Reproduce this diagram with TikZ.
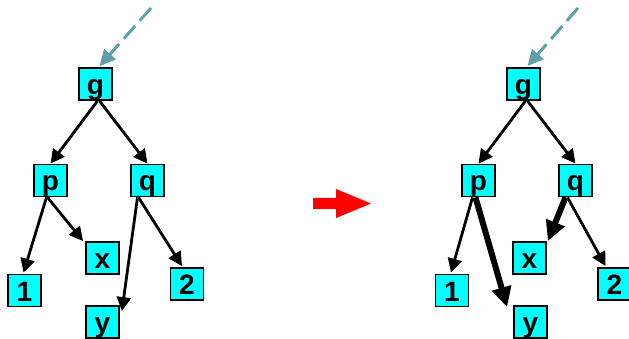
\documentclass[tikz,border=0pt]{standalone}
\usepackage{fontspec}
\setmainfont{Liberation Sans}
\usetikzlibrary{arrows.meta,calc}
\definecolor{boxcyan}{RGB}{0,255,255}
\definecolor{pointer}{RGB}{92,160,170}
\tikzset{
  treenode/.style={draw=black, line width=1.8pt, fill=boxcyan, inner sep=0pt,
    minimum width=33pt, text height=26.5pt, text depth=5.5pt,
    font=\fontsize{28pt}{28pt}\selectfont\bfseries},
  edge/.style={line width=2.8pt, -{Triangle[length=14pt,width=14pt]}},
  heavyedge/.style={line width=6pt, -{Triangle[length=20pt,width=19pt]}},
  rootptr/.style={pointer, line width=3pt, dash pattern=on 17pt off 7pt,
    -{Triangle[length=16pt,width=15pt]}},
}
\begin{document}
\begin{tikzpicture}[x=1pt,y=-1pt]
\useasboundingbox (0,0) rectangle (629,339);

% tree before the rotation
\node[treenode] (g1) at (95.5,84) {g};
\node[treenode] (p1) at (50.5,180.5) {p};
\node[treenode] (q1) at (147.5,180.5) {q};
\node[treenode] (x1) at (102.5,258) {x};
\node[treenode] (one1) at (24.5,290.5) {1};
\node[treenode] (two1) at (187,284) {2};
\node[treenode] (y1) at (102.5,322) {y};
\coordinate (in1) at (151,8);

\draw[rootptr] (in1) -- ($(g1.north)+(4,-1)$);
\draw[edge] ($(g1.south)+(2,0)$) -- (p1.north);
\draw[edge] ($(g1.south)+(4,0)$) -- (q1.north);
\draw[edge] ($(p1.south)+(-4,0)$) -- ($(one1.north)+(-1,-1)$);
\draw[edge] ($(p1.south)+(-3,0)$) -- ($(x1.north west)+(-2,0)$);
\draw[edge] ($(q1.south)+(-10,0)$) -- ($(y1.north east)+(2,6)$);
\draw[edge] ($(q1.south)+(-9,0)$) -- ($(two1.north)+(-5,-1)$);

% transformation arrow
\fill[red] (313,198) -- (336,198) -- (336,189) -- (371,203.5) -- (336,218)
  -- (336,209) -- (313,209) -- cycle;

% tree after the rotation
\node[treenode] (g2) at (523.5,84) {g};
\node[treenode] (p2) at (478.5,180.5) {p};
\node[treenode] (q2) at (575.5,180.5) {q};
\node[treenode] (x2) at (529.5,258) {x};
\node[treenode] (one2) at (452,290.5) {1};
\node[treenode] (two2) at (614.5,284) {2};
\node[treenode] (y2) at (530.5,322) {y};
\coordinate (in2) at (578,8);

\draw[rootptr] (in2) -- ($(g2.north)+(4,-1)$);
\draw[edge] ($(g2.south)+(2,0)$) -- (p2.north);
\draw[edge] ($(g2.south)+(4,0)$) -- (q2.north);
\draw[edge] ($(p2.south)+(-6,0)$) -- ($(one2.north)+(-1,-1)$);
\draw[heavyedge] ($(p2.south)+(-3,0)$) -- ($(y2.north west)+(-6,2)$);
\draw[heavyedge] ($(q2.south)+(-10,0)$) -- ($(x2.north east)+(1,0)$);
\draw[edge] ($(q2.south)+(-8,0)$) -- ($(two2.north)+(-9,-1)$);
\end{tikzpicture}
\end{document}
